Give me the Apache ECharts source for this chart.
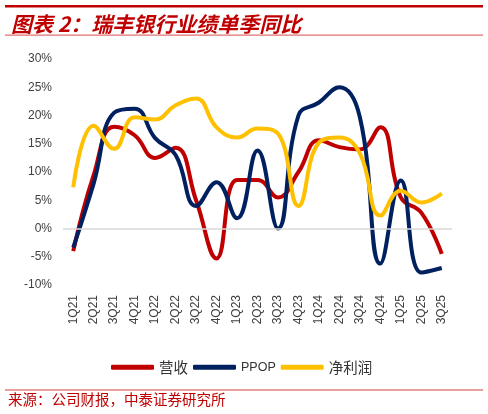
<!DOCTYPE html>
<html>
<head>
<meta charset="utf-8">
<style>
  html, body { margin: 0; padding: 0; background: #fff; }
  #main { width: 488px; height: 414px; }
</style>
</head>
<body>
<div id="main"></div>
<script src="https://cdn.jsdelivr.net/npm/echarts@6/dist/echarts.min.js"></script>
<script>
// 季度
var quarters = ['1Q21', '2Q21', '3Q21', '4Q21', '1Q22', '2Q22', '3Q22', '4Q22', '1Q23', '2Q23',
                '3Q23', '4Q23', '1Q24', '2Q24', '3Q24', '4Q24', '1Q25', '2Q25', '3Q25'];
// 单季同比（%）
var revenue = [-4.0, 9.5, 18.0, 16.5, 12.5, 14.3, 5.0, -5.3, 8.6, 8.6,
               5.5, 10.0, 15.6, 14.4, 14.0, 17.9, 5.5, 2.8, -4.5];
var ppop    = [-3.4, 8.0, 20.5, 21.2, 16.0, 13.0, 4.0, 8.2, 1.8, 13.8,
               0.0, 20.0, 22.3, 25.0, 19.7, -6.2, 8.5, -7.8, -7.0];
var netProfit = [7.3, 18.2, 14.1, 19.7, 19.3, 21.8, 23.0, 17.9, 16.1, 17.7,
                 16.8, 4.0, 15.2, 16.1, 13.3, 2.3, 6.7, 4.6, 6.2];
var yTicks = [-10, -5, 0, 5, 10, 15, 20, 25, 30];

var latin = '"Liberation Sans", Arial, sans-serif';
var cjk = '"Noto Sans CJK SC", sans-serif';
var myChart = echarts.init(document.getElementById('main'));

var option = {
    animation: false,
    backgroundColor: '#fff',
    textStyle: { fontFamily: latin },
    title: {
        text: '图表 2：瑞丰银行业绩单季同比',
        left: 6,
        top: 9,
        textStyle: {
            color: '#C00000',
            fontSize: 21,
            fontWeight: 'bold',
            fontStyle: 'italic',
            fontFamily: cjk
        }
    },
    graphic: [
        { type: 'rect', shape: { x: 5, y: 5, width: 478, height: 2.5 }, style: { fill: '#C00000' } },
        { type: 'rect', shape: { x: 5, y: 34.5, width: 478, height: 1.2 }, style: { fill: '#E07070' } },
        { type: 'rect', shape: { x: 5, y: 389.5, width: 478, height: 1 }, style: { fill: '#D04040' } },
        {
            type: 'text', left: 8, top: 392,
            style: {
                text: '来源：公司财报，中泰证券研究所',
                fill: '#C00000',
                font: '14.5px "Noto Sans CJK SC", sans-serif'
            }
        }
    ],
    legend: {
        left: 106,
        top: 355,
        itemWidth: 43,
        itemHeight: 5,
        itemGap: 5,
        icon: 'roundRect',
        formatter: function (name) {
            return /^[A-Za-z]+$/.test(name) ? '{e|' + name + '}' : '{c|' + name + '}';
        },
        textStyle: {
            color: '#333',
            rich: {
                c: { fontSize: 14.5, fontFamily: cjk, color: '#333' },
                e: { fontSize: 12.5, fontFamily: latin, color: '#333' }
            }
        },
        data: ['营收', 'PPOP', '净利润']
    },
    grid: {
        left: 63,
        right: 36,
        top: 59,
        bottom: 129,
        containLabel: false
    },
    xAxis: {
        type: 'category',
        data: quarters,
        boundaryGap: true,
        axisLine: { show: false, onZero: false },
        axisTick: { show: false },
        axisLabel: {
            rotate: 90,
            interval: 0,
            margin: 10,
            fontSize: 12,
            color: '#404040'
        }
    },
    yAxis: {
        type: 'value',
        min: yTicks[0],
        max: yTicks[yTicks.length - 1],
        interval: 5,
        axisLine: { show: false },
        axisTick: { show: false },
        splitLine: { show: false },
        axisLabel: {
            fontSize: 12,
            color: '#404040',
            margin: 11,
            formatter: function (v) { return v + '%'; }
        }
    },
    series: [
        {
            name: '营收',
            type: 'line',
            smooth: 0.45,
            symbol: 'none',
            data: revenue,
            itemStyle: { color: '#C00000' },
            lineStyle: { width: 4, color: '#C00000' },
            markLine: {
                silent: true,
                symbol: 'none',
                label: { show: false },
                lineStyle: { color: '#D9D9D9', width: 1.5, type: 'solid' },
                data: [{ yAxis: 0 }]
            },
            z: 3
        },
        {
            name: 'PPOP',
            type: 'line',
            smooth: 0.45,
            symbol: 'none',
            data: ppop,
            itemStyle: { color: '#002060' },
            lineStyle: { width: 4, color: '#002060' },
            z: 4
        },
        {
            name: '净利润',
            type: 'line',
            smooth: 0.45,
            symbol: 'none',
            data: netProfit,
            itemStyle: { color: '#FFC000' },
            lineStyle: { width: 4, color: '#FFC000' },
            z: 5
        }
    ]
};

myChart.setOption(option);
</script>
</body>
</html>
